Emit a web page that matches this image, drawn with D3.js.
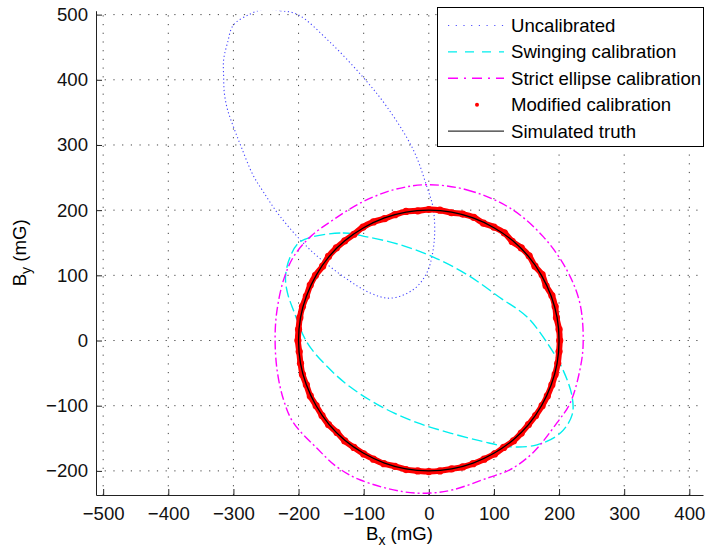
<!DOCTYPE html>
<html>
<head>
<meta charset="utf-8">
<script src="https://cdn.jsdelivr.net/npm/d3@7"></script>
<style>
  body { margin: 0; background: #fff; }
  svg { font-family: "Liberation Sans", Arial, sans-serif; }
  .grid line { stroke: #444; stroke-width: 1; stroke-dasharray: 1.2, 7.5; }
  .axis path, .axis line { stroke: #222; }
  .axis text { font-size: 18.6px; fill: #111; }
</style>
</head>
<body>
<script>
const WIDTH = 706, HEIGHT = 555;

// tick values
const xTicks = [-500, -400, -300, -200, -100, 0, 100, 200, 300, 400];
const yTicks = [-200, -100, 0, 100, 200, 300, 400, 500];

// series, [Bx, By] in mG
const uncalibrated = [
  [-254, 508], [-228, 506], [-201, 500], [-152, 458], [-101, 404], [-64, 358],
  [-24, 293], [-3, 236], [7, 201], [8, 150], [-3, 104], [-24, 78], [-59, 65],
  [-90, 73], [-131, 98], [-182, 139], [-228, 190], [-254, 228], [-270, 254],
  [-288, 297], [-300, 328], [-309, 354], [-314, 380], [-315, 404], [-315, 431],
  [-309, 457], [-300, 484], [-274, 501]
];

const swinging = [
  [-197, 152], [-132, 165], [-95, 159], [-44, 147], [7, 128], [59, 101],
  [109, 66], [151, 36], [186, -10], [206, -45], [220, -86], [220, -114],
  [202, -142], [166, -160], [125, -163], [83, -155], [33, -142], [-18, -126],
  [-70, -103], [-121, -71], [-156, -40], [-187, -3], [-208, 47], [-217, 73],
  [-220, 98], [-213, 128]
];

const strictEllipse = [
  [-3, 239], [59, 231], [125, 203], [176, 159], [212, 108], [232, 57],
  [237, -4], [232, -45], [217, -96], [197, -126], [160, -172], [125, -198],
  [90, -211], [37, -229], [2, -234], [-39, -232], [-105, -214], [-141, -194],
  [-172, -165], [-208, -126], [-223, -91], [-233, -45], [-236, 6], [-233, 47],
  [-223, 93], [-208, 128], [-182, 159], [-147, 185], [-105, 211], [-55, 231]
];

const modified = [
  [201, 0], [200, 17], [196, 35], [194, 52], [189, 69], [180, 84], [174, 101],
  [163, 114], [154, 130], [142, 142], [128, 152], [116, 165], [100, 174],
  [84, 180], [69, 189], [52, 194], [35, 196], [17, 200],
  [0, 201], [-17, 199], [-35, 198], [-52, 193], [-68, 187], [-85, 182],
  [-101, 174], [-115, 163], [-129, 153], [-142, 142], [-154, 129], [-163, 114],
  [-174, 100], [-182, 85], [-188, 68], [-194, 52], [-198, 35], [-200, 17],
  [-201, 0], [-199, -17], [-197, -35], [-194, -52], [-188, -68], [-182, -85],
  [-173, -100], [-164, -115], [-154, -129], [-141, -141], [-129, -154],
  [-115, -164], [-100, -174], [-85, -182], [-69, -189], [-52, -193], [-35, -198],
  [-17, -200],
  [0, -201], [17, -200], [35, -197], [52, -194], [68, -189], [85, -182],
  [101, -174], [115, -164], [130, -154], [142, -142], [153, -129], [164, -115],
  [174, -100], [182, -85], [189, -68], [194, -52], [198, -35], [200, -17]
];

const truth = [
  [200, 0], [197, 35], [188, 68], [173, 100], [153, 129], [129, 153], [100, 173],
  [68, 188], [35, 197], [0, 200], [-35, 197], [-68, 188], [-100, 173],
  [-129, 153], [-153, 129], [-173, 100], [-188, 68], [-197, 35], [-200, 0],
  [-197, -35], [-188, -68], [-173, -100], [-153, -129], [-129, -153],
  [-100, -173], [-68, -188], [-35, -197], [0, -200], [35, -197], [68, -188],
  [100, -173], [129, -153], [153, -129], [173, -100], [188, -68], [197, -35]
];

const legendNames = ["Uncalibrated", "Swinging calibration", "Strict ellipse calibration",
                     "Modified calibration", "Simulated truth"];

let margin = { top: 10.7, bottom: 60, left: 96, right: 3 };

let x = d3.scaleLinear()
  .domain([-511, 421])
  .range([margin.left, WIDTH - margin.right]);

let y = d3.scaleLinear()
  .domain([-237, 506])
  .range([HEIGHT - margin.bottom, margin.top]);

let svg = d3.select("body").append("svg")
  .attr("width", WIDTH)
  .attr("height", HEIGHT);

svg.append("defs").append("clipPath")
  .attr("id", "plotClip")
  .append("rect")
  .attr("x", x.range()[0])
  .attr("y", y.range()[1])
  .attr("width", x.range()[1] - x.range()[0])
  .attr("height", y.range()[0] - y.range()[1]);

// grid
let grid = svg.append("g").attr("class", "grid");
grid.selectAll(".gx")
  .data(xTicks)
  .enter().append("line")
  .attr("x1", d => x(d)).attr("x2", d => x(d))
  .attr("y1", y.range()[0]).attr("y2", y.range()[1]);
grid.selectAll(".gy")
  .data(yTicks)
  .enter().append("line")
  .attr("y1", d => y(d)).attr("y2", d => y(d))
  .attr("x1", x.range()[0]).attr("x2", x.range()[1]);

// axes (ticks point inward)
svg.append("g")
  .attr("class", "axis")
  .attr("transform", "translate(0," + y.range()[0] + ")")
  .call(d3.axisBottom(x).tickValues(xTicks).tickSizeInner(-6).tickSizeOuter(0).tickPadding(12));

svg.append("g")
  .attr("class", "axis")
  .attr("transform", "translate(" + x.range()[0] + ",0)")
  .call(d3.axisLeft(y).tickValues(yTicks).tickSizeInner(-6).tickSizeOuter(0).tickPadding(8));

let line = d3.line()
  .x(d => x(d[0]))
  .y(d => y(d[1]))
  .curve(d3.curveCatmullRomClosed);

let plot = svg.append("g").attr("clip-path", "url(#plotClip)");

plot.append("path")
  .datum(uncalibrated)
  .attr("d", line)
  .attr("fill", "none")
  .attr("stroke", "#3030ff")
  .attr("stroke-opacity", 0.9)
  .attr("stroke-width", 1.1)
  .attr("stroke-dasharray", "1.2,2.6");

plot.append("path")
  .datum(swinging)
  .attr("d", line)
  .attr("fill", "none")
  .attr("stroke", "#00eeee")
  .attr("stroke-width", 1.4)
  .attr("stroke-dasharray", "11,4");

plot.append("path")
  .datum(strictEllipse)
  .attr("d", line)
  .attr("fill", "none")
  .attr("stroke", "#ff00ff")
  .attr("stroke-width", 1.4)
  .attr("stroke-dasharray", "9,3,2,3");

// modified calibration: dense red dots forming a band
plot.append("path")
  .datum(modified)
  .attr("d", line)
  .attr("fill", "none")
  .attr("stroke", "#ff0000")
  .attr("stroke-width", 6);

plot.selectAll(".mod")
  .data(modified)
  .enter().append("circle")
  .attr("class", "mod")
  .attr("cx", d => x(d[0]))
  .attr("cy", d => y(d[1]))
  .attr("r", 3.6)
  .attr("fill", "#ff0000");

plot.append("path")
  .datum(truth)
  .attr("d", line)
  .attr("fill", "none")
  .attr("stroke", "#000")
  .attr("stroke-width", 1.3);

// axis labels
svg.append("text")
  .attr("x", (x.range()[0] + x.range()[1]) / 2)
  .attr("y", 540)
  .attr("text-anchor", "middle")
  .style("font-size", "18.6px")
  .html('B<tspan dy="5" font-size="14px">x</tspan><tspan dy="-5"> (mG)</tspan>');

svg.append("text")
  .attr("transform", "translate(26," + ((y.range()[0] + y.range()[1]) / 2) + ") rotate(-90)")
  .attr("text-anchor", "middle")
  .style("font-size", "18.6px")
  .html('B<tspan dy="5" font-size="14px">y</tspan><tspan dy="-5"> (mG)</tspan>');

// legend
let legend = svg.append("g");
legend.append("rect")
  .attr("x", 437.5).attr("y", 7.5)
  .attr("width", 266).attr("height", 139)
  .attr("fill", "#fff")
  .attr("stroke", "#000")
  .attr("stroke-width", 1);

let rowY = i => 25.5 + i * 26.4;
let styles = [
  { stroke: "#5050ff", dash: "1.2,6.5", w: 1.2 },
  { stroke: "#00eeee", dash: "9,8", w: 1.4 },
  { stroke: "#ff00ff", dash: "10,6,2,6", w: 1.4 },
  null,
  { stroke: "#333", dash: null, w: 1.2 }
];

legendNames.forEach((name, i) => {
  let s = styles[i];
  if (s) {
    legend.append("line")
      .attr("x1", 448).attr("x2", 504)
      .attr("y1", rowY(i)).attr("y2", rowY(i))
      .attr("stroke", s.stroke)
      .attr("stroke-width", s.w)
      .attr("stroke-dasharray", s.dash);
  } else {
    legend.append("circle")
      .attr("cx", 477).attr("cy", rowY(i))
      .attr("r", 2)
      .attr("fill", "#ff0000");
  }
  legend.append("text")
    .attr("x", 511)
    .attr("y", rowY(i))
    .attr("dy", "0.35em")
    .style("font-size", "18.6px")
    .text(name);
});
</script>
</body>
</html>
